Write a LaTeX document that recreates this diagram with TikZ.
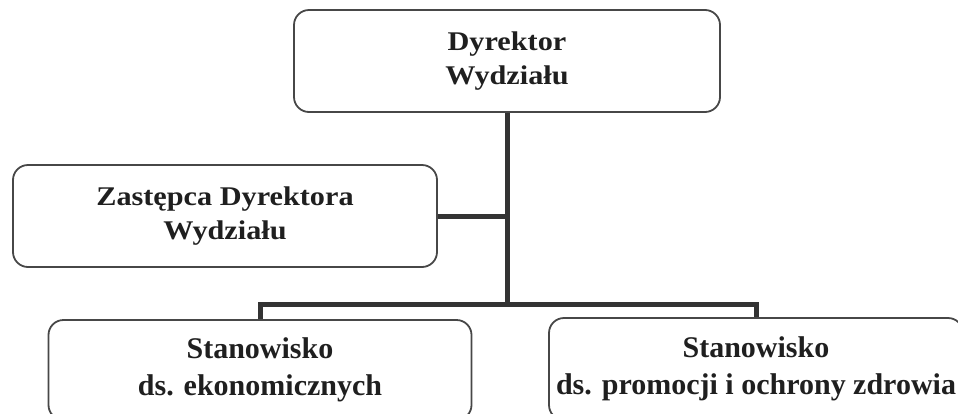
\documentclass[tikz,border=0pt]{standalone}
\usepackage{fontspec}
\setmainfont{Liberation Serif}
\newfontfamily\widefont[FakeStretch=1.12]{Liberation Serif}
\usetikzlibrary{positioning,calc}

\begin{document}
\begin{tikzpicture}[x=1pt,y=-1pt,
    unit/.style={shape=rectangle,rounded corners=15pt,draw=black!72,line width=1.8pt,
      align=center,text=black!88,inner sep=0pt,
      font=\widefont\bfseries\fontsize{27}{34}\selectfont},
    post/.style={unit,font=\bfseries\fontsize{30}{37}\selectfont},
    conn/.style={draw=black!80,line width=5pt}]
   \useasboundingbox (0,0) rectangle (958,413);
   \clip (0,0) rectangle (958,413);
   \node[unit,minimum width=426pt,minimum height=102pt] (dyr) at (507,61) {Dyrektor\\Wydziału};
   \node[unit,minimum width=424pt,minimum height=102pt] (zast) at (225,216) {Zastępca Dyrektora\\Wydziału};
   \node[post,minimum width=423pt,minimum height=100pt] (ekon) at (260,370) {Stanowisko\\ds. ekonomicznych};
   \node[post,minimum width=414pt,minimum height=102pt] (prom) at (756,369) {Stanowisko\\ds. promocji i ochrony zdrowia};
   \coordinate (bar) at (507,304);
   %\path [conn](dyr) (ekon);
   \path [conn](dyr.south) edge node {} (bar);
   \path [conn](zast.east) edge node {} (zast.east -| bar);
   \draw [conn](ekon.north) |- (bar) -| (prom.north);
\end{tikzpicture}
\end{document}
